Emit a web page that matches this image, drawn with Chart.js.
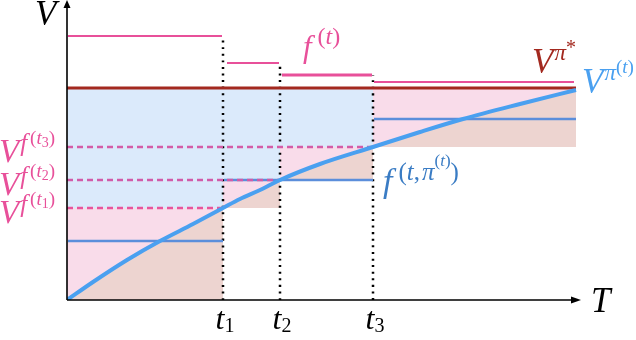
<!DOCTYPE html>
<html>
<head>
<meta charset="utf-8">
<script src="https://cdn.jsdelivr.net/npm/chart.js@4"></script>
<style>
  html, body { margin: 0; padding: 0; background: #fff; }
  canvas { display: block; }
  .warm { position: absolute; left: -999px; top: 0; font-family: "Liberation Serif"; }
</style>
</head>
<body>
<span class="warm"><i>Vf&pi;t</i> (1)*</span>
<canvas id="chart" width="636" height="340"></canvas>
<script>
// T positions: start, t1, t2, t3, end of the drawn span
const cuts = [0, 156, 213, 306, 509];
const tNames = ['1', '2', '3'];
// f^(t) step levels and the T span of each step
const fLevels = [264, 237, 225, 218];
const fSpans = [[1, 155], [160, 212], [215, 305], [307, 507]];
// V^{pi*}
const vStar = 212;
// V^{f(t1)}, V^{f(t2)}, V^{f(t3)}
const vfLevels = [92, 120, 153];
// f^{(t, pi^(t))} level on each interval
const fPiLevels = [59, 120, 120, 181];
// V^{pi^(t)} curve
const curveT = [0, 26, 60, 93, 126, 156, 173, 193, 213, 253, 306, 353, 396, 453, 509];
const curveV = [0, 18, 40, 59, 76, 92, 101, 110, 120, 136, 153, 168, 181, 196, 210];

const X_MAX = 514, Y_MAX = 298;

const PINK = '#e8509a';
const DARKRED = '#a3291f';
const CURVE = '#4aa0f0';
const FPI = '#5b8edb';
const FILL_BLUE = '#dbeafb';
const FILL_PINK = '#f9dcea';
const FILL_BROWN = '#edd4d0';
const DASH_COLS = ['#e8559b', '#d15ba8', '#d45ca7'];

function seg(x0, x1, y) {
    return [{ x: x0, y: y }, { x: x1, y: y }];
}
function curveBetween(a, b) {
    return curveT.map((t, i) => ({ x: t, y: curveV[i] })).filter(p => p.x >= a && p.x <= b);
}

const datasets = [];
// shaded areas per interval
for (let i = 0; i < 4; i++) {
    const a = cuts[i], b = cuts[i + 1];
    const low = i === 0 ? 0 : vfLevels[i - 1];
    const high = i < 3 ? vfLevels[i] : vStar;
    datasets.push({ data: curveBetween(a, b), fill: { value: low }, backgroundColor: FILL_BROWN, borderWidth: 0, order: 20 });
    datasets.push({ data: curveBetween(a, b), fill: { value: high }, backgroundColor: FILL_PINK, borderWidth: 0, order: 20 });
    if (i < 3) {
        datasets.push({ data: seg(a, b, high), fill: { value: vStar }, backgroundColor: FILL_BLUE, borderWidth: 0, order: 20 });
    }
}
// dotted verticals at t1..t3
for (let k = 1; k <= 3; k++) {
    datasets.push({
        data: [{ x: cuts[k], y: 0 }, { x: cuts[k], y: fLevels[k - 1] }],
        borderColor: '#000', borderWidth: 2.5, borderDash: [2, 4.6], order: 8
    });
}
// f^(t,pi^(t)) steps
for (let i = 0; i < 4; i++) {
    datasets.push({ data: seg(cuts[i] + 1, cuts[i + 1], fPiLevels[i]), borderColor: FPI, borderWidth: 2.5, order: 6 });
}
// V^{f(tk)} dashed
for (let k = 0; k < 3; k++) {
    datasets.push({ data: seg(0, cuts[k + 1], vfLevels[k]), borderColor: DASH_COLS[k], borderWidth: 2.5, borderDash: [6, 4], order: 4 });
}
// f^(t) steps
for (let i = 0; i < 4; i++) {
    datasets.push({ data: seg(fSpans[i][0], fSpans[i][1], fLevels[i]), borderColor: PINK, borderWidth: i === 2 ? 3 : 2.2, order: 3 });
}
// V^{pi*}
datasets.push({ data: seg(0, cuts[4], vStar), borderColor: DARKRED, borderWidth: 3, order: 2 });
// V^{pi^(t)} curve
datasets.push({
    data: curveT.map((t, i) => ({ x: t, y: curveV[i] })),
    borderColor: CURVE, borderWidth: 4, order: 0
});

const FONT = '"Liberation Serif", "Times New Roman", Times, serif';
function drawRuns(ctx, x, y, color, runs) {
    ctx.fillStyle = color;
    ctx.textBaseline = 'alphabetic';
    ctx.textAlign = 'left';
    runs.forEach(r => {
        const [txt, size, rise, italic, dx] = r;
        x += dx || 0;
        ctx.font = (italic ? 'italic ' : '') + size + 'px ' + FONT;
        ctx.fillText(txt, x, y - rise);
        x += ctx.measureText(txt).width;
    });
    return x;
}
function runsWidth(ctx, runs) {
    let w = 0;
    runs.forEach(r => {
        ctx.font = (r[3] ? 'italic ' : '') + r[1] + 'px ' + FONT;
        w += ctx.measureText(r[0]).width + (r[4] || 0);
    });
    return w;
}

const axesAndText = {
    id: 'axesAndText',
    afterDraw(chart) {
        const ctx = chart.ctx;
        const xs = chart.scales.x, ys = chart.scales.y;
        const x0 = xs.getPixelForValue(0), y0 = ys.getPixelForValue(0);
        const xEnd = xs.getPixelForValue(X_MAX), yEnd = 0;
        ctx.save();
        ctx.strokeStyle = '#000';
        ctx.fillStyle = '#000';
        ctx.lineWidth = 1.6;
        ctx.beginPath();
        ctx.moveTo(x0, y0);
        ctx.lineTo(x0, yEnd + 6);
        ctx.moveTo(x0, y0);
        ctx.lineTo(xEnd - 8, y0);
        ctx.stroke();
        ctx.beginPath();
        ctx.moveTo(x0, yEnd);
        ctx.lineTo(x0 - 3.5, yEnd + 8);
        ctx.lineTo(x0 + 3.5, yEnd + 8);
        ctx.closePath();
        ctx.fill();
        ctx.beginPath();
        ctx.moveTo(xEnd, y0);
        ctx.lineTo(xEnd - 10, y0 - 3.5);
        ctx.lineTo(xEnd - 10, y0 + 3.5);
        ctx.closePath();
        ctx.fill();

        // axis names
        drawRuns(ctx, 35, 25, '#000', [['V', 35, 0, true]]);
        drawRuns(ctx, 591, 312, '#000', [['T', 35, 0, true]]);
        // t_k
        for (let k = 0; k < 3; k++) {
            const runs = [['t', 32, 0, true], [tNames[k], 20, -3, false]];
            const w = runsWidth(ctx, runs);
            drawRuns(ctx, xs.getPixelForValue(cuts[k + 1]) + 2 - w / 2, 329, '#000', runs);
        }
        // V^{f(tk)}
        for (let k = 0; k < 3; k++) {
            drawRuns(ctx, -1, ys.getPixelForValue(vfLevels[k]) + 15, PINK, [
                ['V', 33, 0, true], ['f', 25, 11, true, 1], ['(', 19, 18, false, 3],
                ['t', 19, 18, true], [tNames[k], 14, 15, false], [')', 19, 18, false]
            ]);
        }
        // f^(t)
        drawRuns(ctx, 303, 57, PINK, [
            ['f', 31, 0, true], ['(', 24, 13, false, 6], ['t', 24, 13, true], [')', 24, 13, false]
        ]);
        // V^{pi*}
        drawRuns(ctx, 532, 73, DARKRED, [
            ['V', 35, 0, true], ['\u03c0', 23, 13, true, 1], ['*', 20, 19, false]
        ]);
        // V^{pi^(t)}
        drawRuns(ctx, 582, 93, CURVE, [
            ['V', 35, 0, true], ['\u03c0', 23, 13, true, 1], ['(', 19, 20, false], ['t', 19, 20, true], [')', 19, 20, false]
        ]);
        // f^{(t, pi^(t))}
        drawRuns(ctx, 383, 192, '#3a7cc4', [
            ['f', 34, 0, true], ['(', 25, 12, false, 6], ['t', 25, 12, true], [',', 25, 12, false],
            ['\u03c0', 25, 12, true, 2], ['(', 17, 26, false], ['t', 17, 26, true], [')', 17, 26, false],
            [')', 25, 12, false]
        ]);
        ctx.restore();
    }
};

function build() {
    new Chart(document.getElementById('chart'), {
        type: 'line',
        data: { datasets: datasets },
        options: {
            responsive: false,
            animation: false,
            layout: { padding: { left: 67, right: 55, top: 2, bottom: 40 } },
            elements: {
                point: { radius: 0, hoverRadius: 0 },
                line: { cubicInterpolationMode: 'monotone', borderCapStyle: 'butt' }
            },
            plugins: {
                legend: { display: false },
                tooltip: { enabled: false },
                title: { display: false }
            },
            scales: {
                x: { type: 'linear', min: 0, max: X_MAX, display: false },
                y: { type: 'linear', min: 0, max: Y_MAX, display: false }
            }
        },
        plugins: [axesAndText]
    });
}

Promise.all([
    document.fonts.load('italic 30px "Liberation Serif"'),
    document.fonts.load('30px "Liberation Serif"')
]).then(build, build);
</script>
</body>
</html>
